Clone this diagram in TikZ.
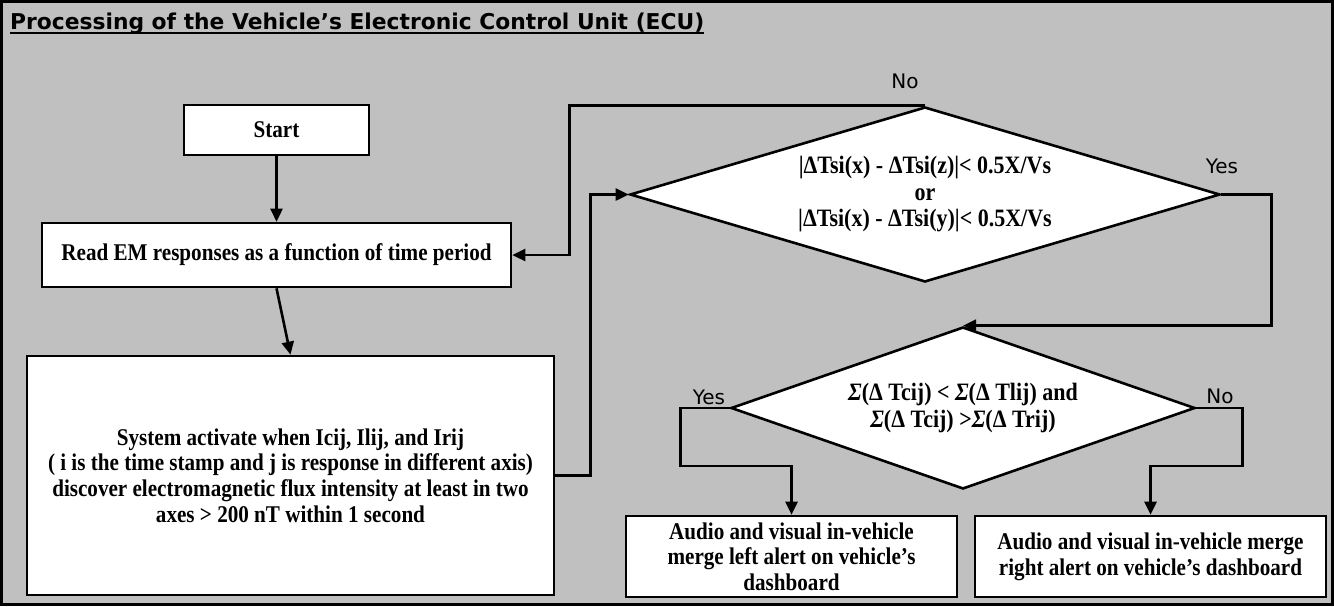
\documentclass[tikz,border=0pt]{standalone}
\usepackage{fontspec}
\setmainfont{Liberation Serif}[FakeStretch=0.88]
\newfontfamily\labelfont{DejaVu Sans}
\usetikzlibrary{shapes.geometric, positioning, arrows.meta}
\definecolor{panelgray}{HTML}{C0C0C0}
\newcommand{\thickul}[1]{\setbox0=\hbox{#1}\rlap{\rule[-5pt]{\wd0}{2pt}}\box0}

\begin{document}
\begin{tikzpicture}[
    x=1pt, y=-1pt,
    box/.style={draw, line width=2.6pt, fill=white, align=center, inner sep=2pt, font=\bfseries\fontsize{24}{25.7}\selectfont},
    decision/.style={draw, diamond, line width=2.6pt, fill=white, align=center, inner sep=0pt, font=\bfseries\fontsize{25}{26.5}\selectfont},
    arrow/.style={-{Triangle[length=13pt, width=12pt]}, line width=2.6pt},
    answer/.style={font=\labelfont\fontsize{20}{22}\selectfont}
]
    \useasboundingbox (0,0) rectangle (1334,606);
    \draw[line width=3pt, fill=panelgray] (1.5,1.5) rectangle (1332.5,604.5);

    \node[anchor=base west, inner sep=0pt, font=\labelfont\bfseries\fontsize{21.8}{25}\selectfont] (title) at (10,29)
        {\thickul{Processing of the Vehicle’s Electronic Control Unit (ECU)}};

    \node[box, minimum width=185pt, minimum height=50pt] (start) at (276.5,130) {Start};
    \node[box, minimum width=469pt, minimum height=64pt] (read) at (276.5,255) {Read EM responses as a function of time period};
    \node[box, minimum width=527pt, minimum height=239pt] (system) at (290.5,475.5)
        {System activate when Icij, Ilij, and Irij\\( i is the time stamp and j is response in different axis)\\discover electromagnetic flux intensity at least in two\\axes > 200 nT within 1 second};

    \node[decision, aspect=3.37, minimum width=590pt, minimum height=175pt] (check) at (925,194.5)
        {|ΔTsi(x) - ΔTsi(z)|< 0.5X/Vs\\or\\|ΔTsi(x) - ΔTsi(y)|< 0.5X/Vs};
    \node[decision, aspect=2.86, minimum width=464pt, minimum height=162pt] (side) at (963,408)
        {\textit{Σ}(Δ Tcij) < \textit{Σ}(Δ Tlij) and\\\textit{Σ}(Δ Tcij) >\textit{Σ}(Δ Trij)};

    \node[box, minimum width=331pt, minimum height=81pt] (leftalert) at (791.5,556.5)
        {Audio and visual in-vehicle\\merge left alert on vehicle’s\\dashboard};
    \node[box, minimum width=351pt, minimum height=81pt] (rightalert) at (1150.5,556.5)
        {Audio and visual in-vehicle merge\\right alert on vehicle’s dashboard};

    \node[answer] (checkno) at (905,81) {No};
    \node[answer] (checkyes) at (1222,166) {Yes};
    \node[answer] (sideyes) at (709,397) {Yes};
    \node[answer] (sideno) at (1220,396) {No};

    \draw[arrow] (start) -- (read);
    \draw[arrow] (read.south) -- (system.north);
    \draw[arrow] (system.east) -- ++(35,0) |- (check.west);
    \draw[arrow] (check.north) -| ([xshift=57pt]read.east) -- (read.east);
    \draw[arrow] (check.east) -- ++(50,0) |- (side.north);
    \draw[arrow] (side.west) -- ++(-49,0) -- ++(0,58) -| (leftalert.north);
    \draw[arrow] (side.east) -- ++(46,0) -- ++(0,58) -| (rightalert.north);
\end{tikzpicture}
\end{document}
